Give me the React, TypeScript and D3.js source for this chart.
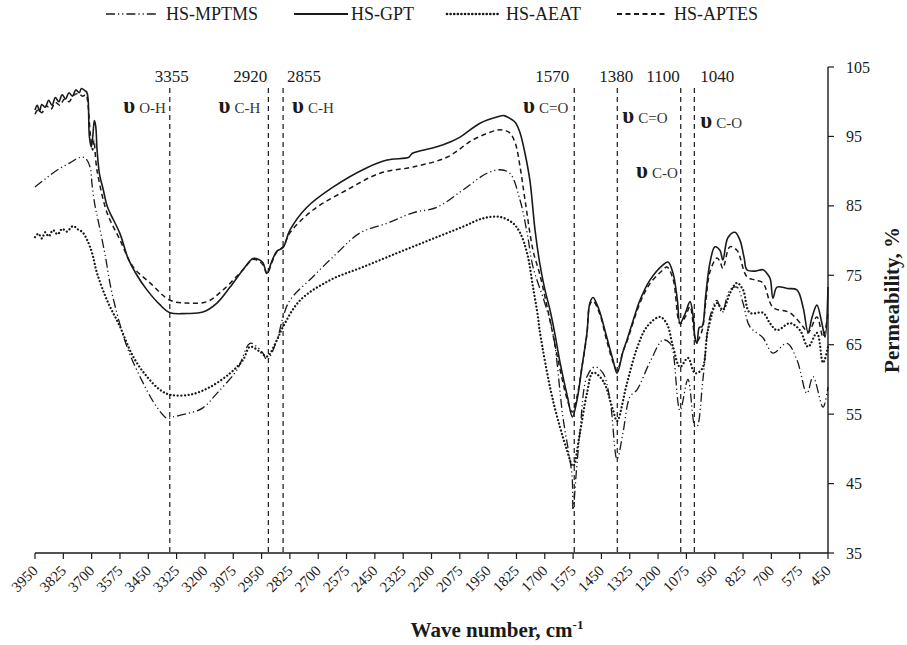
import React from "react";
import * as d3 from "d3";

// ---------- DATA ----------
const X_TICKS = [3950, 3825, 3700, 3575, 3450, 3325, 3200, 3075, 2950, 2825, 2700, 2575, 2450, 2325, 2200, 2075, 1950, 1825, 1700, 1575, 1450, 1325, 1200, 1075, 950, 825, 700, 575, 450];
const Y_TICKS = [35, 45, 55, 65, 75, 85, 95, 105];

const PEAKS = [3355, 2920, 2855, 1570, 1380, 1100, 1040];
const PEAK_LABELS = ["3355", "2920", "2855", "1570", "1380", "1100", "1040"];
const BOND_LABELS = ["O-H", "C-H", "C-H", "C=O", "C=O", "C-O", "C-O"];

const SERIES_NAMES = ["HS-MPTMS", "HS-GPT", "HS-AEAT", "HS-APTES"];

// HS-GPT (solid)
const GPT_WN = [3950, 3940, 3930, 3920, 3905, 3890, 3875, 3860, 3845, 3830, 3815, 3800, 3785, 3770, 3755, 3745, 3730, 3722, 3716, 3710, 3702, 3695, 3688, 3682, 3676, 3665, 3650, 3632, 3619, 3575, 3540, 3500, 3456, 3400, 3354, 3280, 3209, 3147, 3089, 3032, 2988, 2965, 2944, 2926, 2905, 2882, 2855, 2825, 2750, 2635, 2485, 2396, 2300, 2290, 2282, 2176, 2118, 2074, 1986, 1911, 1880, 1854, 1830, 1809, 1787, 1765, 1743, 1721, 1700, 1677, 1655, 1633, 1600, 1578, 1558, 1535, 1514, 1501, 1487, 1470, 1456, 1430, 1399, 1381, 1355, 1337, 1310, 1280, 1236, 1178, 1156, 1134, 1115, 1103, 1080, 1059, 1045, 1037, 1028, 1018, 1006, 990, 971, 949, 927, 914, 892, 861, 839, 820, 808, 770, 737, 720, 705, 693, 675, 630, 587, 560, 538, 520, 499, 477, 463, 450];
const GPT_T = [98.8, 99.5, 98.6, 99.6, 99.2, 100.2, 99.5, 100.6, 100.0, 101.0, 100.4, 101.3, 100.8, 101.7, 101.3, 101.9, 101.6, 101.4, 100.5, 95.0, 93.5, 95.0, 97.3, 96.5, 93.0, 89.5, 87.5, 85.0, 84.0, 81.0, 77.5, 75.0, 72.9, 70.8, 69.6, 69.5, 69.7, 71.0, 73.3, 75.8, 77.4, 77.3, 76.8, 75.3, 77.0, 78.5, 79.0, 81.5, 84.8, 87.7, 90.5, 91.6, 92.0, 92.4, 92.6, 93.5, 94.2, 94.9, 96.9, 97.8, 98.0, 97.6, 97.0, 95.5, 92.5, 88.5, 81.5, 76.5, 73.0, 70.0, 66.5, 62.5, 57.5, 54.6, 57.0, 62.0, 66.7, 71.0, 71.8, 70.8, 69.6, 66.5, 62.8, 60.9, 64.0, 65.7, 68.5, 71.4, 74.3, 76.5, 76.9, 75.3, 71.5, 68.1, 69.5, 71.2, 69.0, 66.0, 65.2, 67.5, 67.6, 72.0, 76.8, 79.1, 78.6, 77.2, 80.4, 81.2, 80.1, 77.5, 75.8, 75.6, 75.8, 75.3, 74.5, 71.7, 73.3, 73.1, 72.9, 70.4, 66.8, 69.0, 70.7, 68.1, 66.1, 73.3];

// HS-APTES (dashed)
const APTES_WN = [3950, 3935, 3920, 3900, 3880, 3860, 3840, 3820, 3800, 3780, 3760, 3740, 3725, 3716, 3705, 3695, 3690, 3680, 3670, 3632, 3575, 3517, 3442, 3354, 3279, 3191, 3120, 3032, 2988, 2965, 2944, 2926, 2905, 2882, 2855, 2825, 2723, 2573, 2427, 2282, 2132, 2017, 1911, 1880, 1854, 1830, 1809, 1787, 1752, 1721, 1677, 1633, 1600, 1578, 1558, 1535, 1514, 1501, 1487, 1456, 1430, 1399, 1381, 1355, 1337, 1280, 1236, 1178, 1161, 1134, 1103, 1080, 1059, 1037, 1028, 1006, 990, 971, 940, 927, 914, 883, 852, 808, 770, 737, 693, 618, 560, 538, 499, 472, 450];
const APTES_T = [98.2, 98.9, 98.4, 99.4, 98.9, 99.9, 99.5, 100.4, 100.0, 100.9, 101.2, 100.8, 101.0, 99.5, 95.0, 93.0, 94.5, 91.0, 89.0, 84.0, 80.1, 76.2, 73.9, 71.4, 71.0, 71.2, 72.9, 75.8, 77.3, 77.1, 76.5, 75.2, 76.8, 78.4, 79.1, 81.1, 84.4, 87.3, 89.7, 90.6, 92.0, 94.5, 95.9, 95.9, 95.5, 94.0, 90.6, 85.8, 78.6, 75.0, 68.5, 61.5, 57.0, 55.3, 57.5, 62.0, 66.5, 70.8, 71.3, 69.3, 66.0, 62.5, 61.3, 64.0, 65.5, 71.0, 73.8, 75.8, 76.2, 74.5, 68.0, 69.0, 70.5, 66.0, 65.5, 67.0, 71.0, 75.5, 77.5, 77.0, 76.0, 79.1, 78.6, 74.8, 74.3, 73.9, 70.4, 69.6, 67.6, 66.7, 69.0, 66.1, 69.6];

// HS-MPTMS (dash-dot-dot)
const MPTMS_WN = [3950, 3900, 3850, 3796, 3751, 3729, 3707, 3698, 3685, 3672, 3641, 3610, 3544, 3473, 3412, 3367, 3341, 3253, 3209, 3147, 3058, 3001, 2970, 2944, 2926, 2882, 2855, 2825, 2723, 2617, 2516, 2396, 2282, 2176, 2061, 1955, 1898, 1854, 1809, 1778, 1752, 1700, 1664, 1620, 1580, 1575, 1560, 1545, 1514, 1479, 1443, 1412, 1381, 1355, 1324, 1293, 1236, 1178, 1147, 1134, 1103, 1068, 1037, 1028, 1002, 971, 940, 918, 883, 852, 825, 795, 737, 693, 631, 587, 543, 516, 472, 450];
const MPTMS_T = [87.7, 89.0, 90.2, 91.2, 92.0, 91.9, 90.6, 88.0, 85.0, 83.0, 78.0, 72.4, 64.7, 59.5, 56.0, 54.4, 54.6, 55.3, 55.9, 58.0, 61.4, 65.2, 64.7, 63.8, 62.8, 65.7, 69.0, 71.4, 74.8, 78.2, 81.1, 82.5, 84.0, 84.8, 87.3, 89.7, 90.2, 89.7, 85.8, 81.1, 76.2, 71.0, 66.7, 54.6, 46.2, 41.2, 47.0, 52.3, 60.4, 61.8, 60.9, 57.0, 48.5, 52.3, 57.5, 58.5, 62.5, 65.7, 65.2, 64.0, 55.5, 60.0, 53.2, 53.2, 60.0, 69.0, 71.4, 69.6, 72.9, 73.3, 71.0, 67.6, 66.0, 63.8, 65.2, 62.8, 58.0, 60.4, 56.0, 58.9];

// HS-AEAT (dotted)
const AEAT_WN = [3950, 3935, 3920, 3905, 3890, 3870, 3850, 3830, 3810, 3782, 3760, 3740, 3720, 3698, 3676, 3632, 3575, 3517, 3456, 3398, 3354, 3266, 3178, 3089, 3032, 3001, 2957, 2926, 2882, 2855, 2780, 2648, 2502, 2352, 2207, 2061, 1973, 1898, 1840, 1809, 1778, 1752, 1730, 1721, 1664, 1602, 1575, 1545, 1514, 1487, 1443, 1399, 1381, 1337, 1293, 1249, 1192, 1161, 1134, 1103, 1068, 1037, 1006, 980, 940, 914, 883, 852, 825, 795, 737, 706, 675, 618, 574, 538, 499, 472, 450];
const AEAT_T = [80.5, 81.0, 80.3, 81.2, 80.6, 81.5, 80.9, 81.7, 81.3, 82.1, 81.6, 81.2, 80.1, 78.2, 75.3, 71.4, 67.6, 63.3, 60.4, 58.5, 57.8, 57.8, 58.9, 60.9, 62.8, 64.7, 64.0, 63.3, 65.7, 67.6, 71.4, 74.3, 76.2, 78.2, 80.1, 82.0, 83.2, 83.4, 82.5, 81.1, 78.2, 73.3, 69.0, 66.7, 57.0, 49.8, 47.5, 52.3, 58.0, 61.0, 59.8, 55.6, 54.0, 59.5, 64.5, 67.6, 69.0, 68.0, 64.7, 61.8, 63.1, 60.9, 61.5, 67.1, 71.0, 70.0, 72.4, 73.9, 72.9, 69.6, 69.6, 68.1, 67.1, 68.1, 67.1, 64.7, 66.7, 62.4, 64.7];

// ---------- CHART ----------
const W = 907;
const H = 645;
const FONT = "'Liberation Serif', 'Times New Roman', serif";
const INK = "#1a1a1a";

const STYLES: Record<string, { dash: string; width: number; cap: "round" | "butt" }> = {
  "HS-MPTMS": { dash: "9 3 1.2 3 1.2 3", width: 1.3, cap: "butt" },
  "HS-GPT": { dash: "", width: 1.6, cap: "butt" },
  "HS-AEAT": { dash: "0.01 3.6", width: 2.3, cap: "round" },
  "HS-APTES": { dash: "5 3.5", width: 1.5, cap: "butt" },
};

export default function App() {
  const x = d3.scaleLinear().domain([3950, 450]).range([35, 828]);
  const y = d3.scaleLinear().domain([35, 105]).range([553, 67]);

  const series = [
    { name: SERIES_NAMES[0], wn: MPTMS_WN, t: MPTMS_T },
    { name: SERIES_NAMES[1], wn: GPT_WN, t: GPT_T },
    { name: SERIES_NAMES[2], wn: AEAT_WN, t: AEAT_T },
    { name: SERIES_NAMES[3], wn: APTES_WN, t: APTES_T },
  ];

  const line = d3
    .line<[number, number]>()
    .x((d) => x(d[0]))
    .y((d) => y(d[1]))
    .curve(d3.curveCatmullRom.alpha(0.5));

  // label layout (anchor, dx) for peak numbers and bond labels
  const numLayout: [string, number][] = [["middle", 2], ["end", -1], ["start", 4], ["end", -5], ["middle", -1], ["end", -1], ["start", 6]];
  const bondLayout: [string, number, number][] = [["end", -4, 113], ["end", -8, 113], ["start", 9, 113], ["end", -6, 113], ["start", 5, 123], ["end", -3, 178], ["start", 6, 128]];

  const legendPos = [
    { x0: 106, x1: 156, tx: 166 },
    { x0: 294, x1: 348, tx: 351 },
    { x0: 447, x1: 499, tx: 506 },
    { x0: 617, x1: 667, tx: 674 },
  ];

  return (
    <svg width={W} height={H} style={{ position: "absolute", left: 0, top: 0, background: "#fff" }} fontFamily={FONT}>
      <rect x={0} y={0} width={W} height={H} fill="#fff" />
      {/* Legend */}
      {series.map((s, i) => {
        const st = STYLES[s.name];
        const p = legendPos[i];
        return (
          <g key={s.name}>
            <line x1={p.x0} x2={p.x1} y1={14} y2={14} stroke={INK} strokeWidth={st.width + 0.4} strokeDasharray={st.dash || undefined} strokeLinecap={st.cap} />
            <text x={p.tx} y={20} fontSize={18} fill={INK}>{s.name}</text>
          </g>
        );
      })}

      {/* Peak marker lines */}
      {PEAKS.map((p, i) => (
        <g key={"pk" + i}>
          <line x1={x(p)} x2={x(p)} y1={88} y2={553} stroke={INK} strokeWidth={1.2} strokeDasharray="5 4" />
          <text x={x(p) + numLayout[i][1]} y={82} fontSize={17} fill={INK} textAnchor={numLayout[i][0] as any}>{PEAK_LABELS[i]}</text>
          <text x={x(p) + bondLayout[i][1]} y={bondLayout[i][2]} fill={INK} textAnchor={bondLayout[i][0] as any}>
            <tspan fontSize={23} fontWeight="bold">υ</tspan>
            <tspan fontSize={15} dx={4} fill="#333">{BOND_LABELS[i]}</tspan>
          </text>
        </g>
      ))}

      {/* Series */}
      {series.map((s) => {
        const st = STYLES[s.name];
        const pts = s.wn.map((w, i) => [w, s.t[i]] as [number, number]);
        return (
          <path key={s.name} d={line(pts) || ""} fill="none" stroke={INK} strokeWidth={st.width} strokeDasharray={st.dash || undefined} strokeLinecap={st.cap} strokeLinejoin="round" />
        );
      })}

      {/* Bottom axis */}
      <line x1={35} x2={828} y1={553} y2={553} stroke={INK} strokeWidth={1.4} />
      {X_TICKS.map((t) => (
        <g key={"xt" + t}>
          <line x1={x(t)} x2={x(t)} y1={553} y2={559} stroke={INK} strokeWidth={1.2} />
          <text transform={`translate(${x(t)},${568}) rotate(-45)`} textAnchor="end" fontSize={15} fill={INK} dy="0.35em">{t}</text>
        </g>
      ))}

      {/* Right axis */}
      <line x1={828} x2={828} y1={67} y2={553} stroke={INK} strokeWidth={1.4} />
      {Y_TICKS.map((t) => (
        <g key={"yt" + t}>
          <line x1={828} x2={834} y1={y(t)} y2={y(t)} stroke={INK} strokeWidth={1.2} />
          <text x={846} y={y(t)} dy="0.35em" fontSize={16} fill={INK}>{t}</text>
        </g>
      ))}

      {/* Axis titles */}
      <text transform="translate(899,300) rotate(-90)" textAnchor="middle" fontSize={21} fontWeight="bold" fill={INK}>Permeability, %</text>
      <text x={497} y={637} textAnchor="middle" fontSize={21} fontWeight="bold" fill={INK}>
        Wave number, cm<tspan fontSize={13} dy={-8}>-1</tspan>
      </text>
    </svg>
  );
}
